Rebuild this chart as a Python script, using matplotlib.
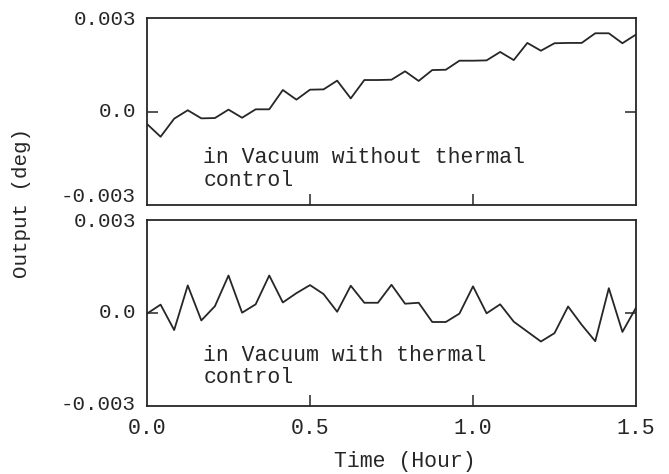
import numpy as np
import matplotlib
matplotlib.use("Agg")
import matplotlib.pyplot as plt

# Time in hours (2.5-minute sampling over 1.5 h)
time_hours = [i * 2.5 / 60 for i in range(37)]

output_no_control = [
    -0.00040, -0.00081, -0.00023, 0.00004, -0.00022, -0.00021, 0.00006, -0.00020,
    0.00007, 0.00007, 0.00069, 0.00038, 0.00070, 0.00071, 0.00099, 0.00042,
    0.00101, 0.00101, 0.00102, 0.00129, 0.00098, 0.00133, 0.00134, 0.00163,
    0.00163, 0.00164, 0.00191, 0.00165, 0.00220, 0.00195, 0.00219, 0.00220,
    0.00220, 0.00251, 0.00251, 0.00219, 0.00247,
]

output_with_control = [
    -0.00002, 0.00027, -0.00055, 0.00089, -0.00024, 0.00022, 0.00121, 0.00001,
    0.00028, 0.00121, 0.00034, 0.00064, 0.00090, 0.00061, 0.00004, 0.00088,
    0.00033, 0.00033, 0.00091, 0.00030, 0.00033, -0.00029, -0.00029, -0.00002,
    0.00086, -0.00001, 0.00028, -0.00028, -0.00060, -0.00092, -0.00065, 0.00021,
    -0.00038, -0.00091, 0.00080, -0.00061, 0.00017,
]

ytick_vals = [-0.003, 0.0, 0.003]
ytick_labels = ["-0.003", "0.0", "0.003"]
xtick_vals = [0.0, 0.5, 1.0, 1.5]
xtick_labels = ["0.0", "0.5", "1.0", "1.5"]

top_text = "in Vacuum without thermal\ncontrol"
bottom_text = "in Vacuum with thermal\ncontrol"

ink = "#262626"
font = "Liberation Mono"
fs = 15

fig = plt.figure(figsize=(6.69, 4.74), dpi=100)
W, H = 669, 474

def axes_px(left, top, right, bottom):
    return fig.add_axes([left / W, 1 - bottom / H, (right - left) / W, (bottom - top) / H])

ax1 = axes_px(147, 18, 636, 205)
ax2 = axes_px(147, 220, 636, 406)

# vertical offsets (points) of the y tick labels, per panel: bottom, middle, top
label_dy = {0: [6, 0, -1], 1: [1, 0, -1]}

for i, (ax, data, txt, ty) in enumerate([(ax1, output_no_control, top_text, 0.31),
                                          (ax2, output_with_control, bottom_text, 0.33)]):
    ax.plot(time_hours, data, color=ink, lw=1.3)
    ax.set_xlim(0, 1.5)
    ax.set_ylim(-0.003, 0.003)
    for s in ax.spines.values():
        s.set_color(ink)
        s.set_linewidth(1.3)
    ax.set_yticks([0.0])
    ax.set_yticklabels([])
    ax.set_xticks([0.5, 1.0])
    ax.set_xticklabels([])
    ax.tick_params(direction="in", length=8, width=1.1, color=ink,
                   left=True, right=True, bottom=True, top=False)
    for v, lab, dy in zip(ytick_vals, ytick_labels, label_dy[i]):
        ax.annotate(lab, xy=(0, v), xycoords=("axes fraction", "data"),
                    xytext=(-8, dy), textcoords="offset points",
                    ha="right", va="center", family=font, fontsize=fs, color=ink)
    ax.text(0.115, ty, txt, transform=ax.transAxes, ha="left", va="top",
            family=font, fontsize=fs + 0.5, color=ink, linespacing=1.1)

for v, lab in zip(xtick_vals, xtick_labels):
    ax2.annotate(lab, xy=(v, 0), xycoords=("data", "axes fraction"),
                 xytext=(0, -9), textcoords="offset points",
                 ha="center", va="top", family=font, fontsize=fs + 0.5, color=ink)

fig.text(405 / W, 1 - 462 / H, "Time (Hour)", ha="center", va="center",
         family=font, fontsize=fs + 0.5, color=ink)
fig.text(22 / W, 1 - 203 / H, "Output (deg)", ha="center", va="center",
         rotation=90, family=font, fontsize=fs, color=ink)

fig.savefig("out.png", dpi=100, facecolor="white")
